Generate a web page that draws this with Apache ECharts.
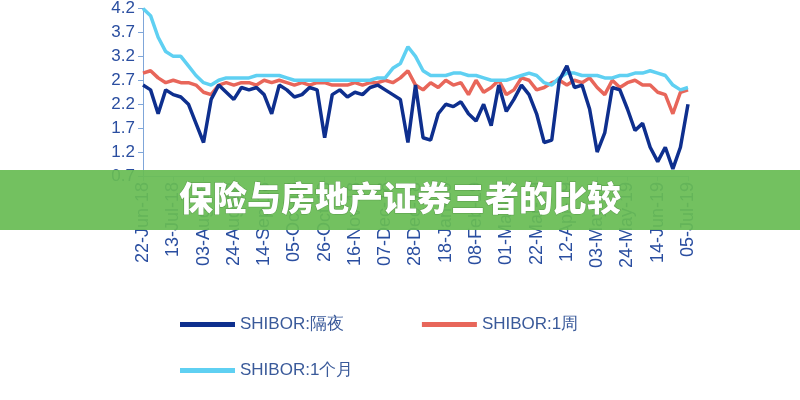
<!DOCTYPE html>
<html>
<head>
<meta charset="utf-8">
<script src="https://cdn.jsdelivr.net/npm/echarts@6/dist/echarts.min.js"></script>
<style>html,body{margin:0;padding:0;background:#fff}#main{width:800px;height:400px}</style>
</head>
<body>
<div id="main"></div>
<script>
var ticks = ['22-Jun-18', '13-Jul-18', '03-Aug-18', '24-Aug-18', '14-Sep-18', '05-Oct-18', '26-Oct-18', '16-Nov-18', '07-Dec-18', '28-Dec-18', '18-Jan-19', '08-Feb-19', '01-Mar-19', '22-Mar-19', '12-Apr-19', '03-May-19', '24-May-19', '14-Jun-19', '05-Jul-19'];
var overnight = [2.6, 2.5, 2.0, 2.5, 2.4, 2.35, 2.2, 1.8, 1.4, 2.3, 2.6, 2.45, 2.3, 2.55, 2.5, 2.55, 2.4, 2.0, 2.6, 2.5, 2.35, 2.4, 2.55, 2.5, 1.5, 2.4, 2.5, 2.35, 2.45, 2.4, 2.55, 2.6, 2.5, 2.4, 2.3, 1.4, 2.6, 1.5, 1.45, 2.0, 2.2, 2.15, 2.25, 2.0, 1.85, 2.2, 1.75, 2.6, 2.05, 2.3, 2.6, 2.4, 2.0, 1.4, 1.45, 2.7, 3.0, 2.55, 2.6, 2.1, 1.2, 1.6, 2.55, 2.5, 2.1, 1.65, 1.8, 1.3, 1.0, 1.3, 0.85, 1.3, 2.2];
var week = [2.85, 2.9, 2.75, 2.65, 2.7, 2.65, 2.65, 2.6, 2.45, 2.4, 2.6, 2.65, 2.6, 2.65, 2.65, 2.6, 2.7, 2.65, 2.7, 2.65, 2.6, 2.65, 2.6, 2.65, 2.65, 2.6, 2.6, 2.6, 2.65, 2.6, 2.65, 2.65, 2.7, 2.65, 2.75, 2.9, 2.6, 2.5, 2.65, 2.55, 2.7, 2.6, 2.65, 2.4, 2.7, 2.45, 2.55, 2.7, 2.4, 2.5, 2.75, 2.7, 2.5, 2.55, 2.65, 2.7, 2.6, 2.7, 2.65, 2.75, 2.55, 2.4, 2.7, 2.55, 2.65, 2.7, 2.6, 2.6, 2.45, 2.4, 2.0, 2.45, 2.5];
var month = [4.2, 4.05, 3.6, 3.3, 3.2, 3.2, 3.0, 2.8, 2.65, 2.6, 2.7, 2.75, 2.75, 2.75, 2.75, 2.8, 2.8, 2.8, 2.8, 2.75, 2.7, 2.7, 2.7, 2.7, 2.7, 2.7, 2.7, 2.7, 2.7, 2.7, 2.7, 2.75, 2.75, 2.95, 3.05, 3.4, 3.2, 2.9, 2.8, 2.8, 2.8, 2.85, 2.85, 2.8, 2.8, 2.75, 2.7, 2.7, 2.7, 2.75, 2.8, 2.85, 2.8, 2.65, 2.6, 2.75, 2.85, 2.85, 2.8, 2.8, 2.8, 2.75, 2.75, 2.8, 2.8, 2.85, 2.85, 2.9, 2.85, 2.8, 2.6, 2.5, 2.55];
var yTicks = { min: 0.7, max: 4.2, step: 0.5 };

// one tick label every 4 points
var cats = [];
for (var i = 0; i < overnight.length; i++) {
	cats.push(i % 4 === 0 ? ticks[i / 4] : '');
}

var chart = echarts.init(document.getElementById('main'));
chart.setOption({
	animation: false,
	grid: { left: 143, right: 112, top: 2, bottom: 224 },
	xAxis: {
		type: 'category',
		boundaryGap: false,
		data: cats,
		axisLine: { lineStyle: { color: '#9fb6d9', width: 1 } },
		axisTick: { interval: function(i) { return i % 4 === 0; }, lineStyle: { color: '#9fb6d9' }, length: 5 },
		axisLabel: { interval: 0, rotate: 90, color: '#2a4ea0', fontSize: 18, fontFamily: 'Liberation Sans', margin: 6 }
	},
	yAxis: {
		type: 'value',
		min: yTicks.min,
		max: yTicks.max,
		interval: yTicks.step,
		axisLine: { show: true, lineStyle: { color: '#7fa6d9' } },
		axisTick: { show: true, lineStyle: { color: '#7fa6d9' } },
		splitLine: { show: false },
		axisLabel: { color: '#2a4ea0', fontSize: 17, fontFamily: 'Liberation Sans', formatter: function(v) { return v.toFixed(1); } }
	},
	legend: [{
		data: ['SHIBOR:隔夜', 'SHIBOR:1周'],
		left: 175, top: 311, itemWidth: 55, itemHeight: 5, itemGap: 78,
		icon: 'rect',
		textStyle: { color: '#3a5a9a', fontSize: 17, fontFamily: 'Liberation Sans' }
	}, {
		data: ['SHIBOR:1个月'],
		left: 175, top: 357, itemWidth: 55, itemHeight: 5,
		icon: 'rect',
		textStyle: { color: '#3a5a9a', fontSize: 17, fontFamily: 'Liberation Sans' }
	}],
	series: [{
		name: 'SHIBOR:1周', type: 'line', data: week, symbol: 'none',
		lineStyle: { width: 3.5, color: '#e8665a' }, itemStyle: { color: '#e8665a' }
	}, {
		name: 'SHIBOR:1个月', type: 'line', data: month, symbol: 'none',
		lineStyle: { width: 3.5, color: '#5fd0f2' }, itemStyle: { color: '#5fd0f2' }
	}, {
		name: 'SHIBOR:隔夜', type: 'line', data: overnight, symbol: 'none',
		lineStyle: { width: 3.5, color: '#0e2f8e' }, itemStyle: { color: '#0e2f8e' }
	}],
	graphic: [{
		type: 'rect', left: 0, top: 170, z: 100,
		shape: { width: 800, height: 60 },
		style: { fill: 'rgba(104,188,84,0.93)' }
	}, {
		type: 'text', left: 'center', top: 181, z: 101,
		style: { text: '保险与房地产证券三者的比较', fill: '#fff', font: '900 34px "Noto Sans CJK SC"', stroke: 'rgba(40,80,30,0.35)', lineWidth: 1 }
	}]
});
</script>
</body>
</html>
